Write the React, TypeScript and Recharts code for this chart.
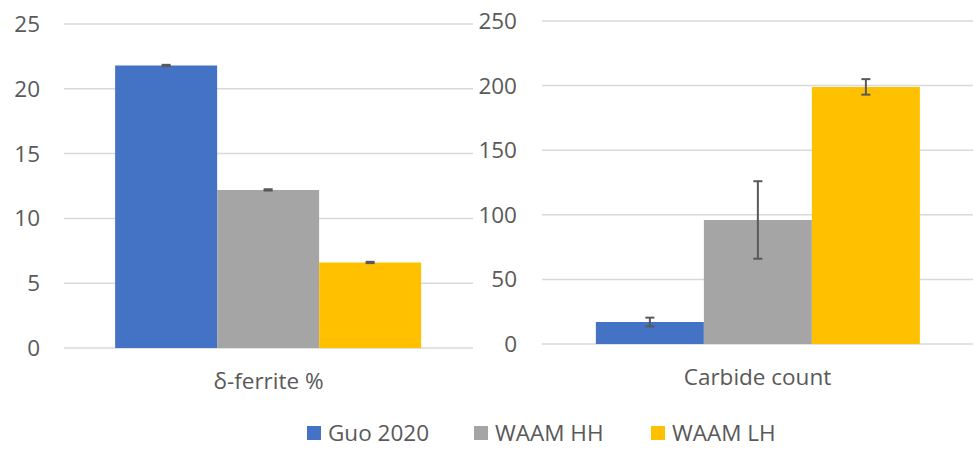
import React from "react";
import { BarChart, Bar, XAxis, YAxis, CartesianGrid, ErrorBar } from "recharts";

const seriesNames = ["Guo 2020", "WAAM HH", "WAAM LH"];
const seriesColors = ["#4472C4", "#A5A5A5", "#FFC000"];

const ferriteCategory = "δ-ferrite %";
const ferriteValues = [21.8, 12.2, 6.6];
const ferriteErrors = [0.05, 0.05, 0.05];
const ferriteTicks = [0, 5, 10, 15, 20, 25];

const carbideCategory = "Carbide count";
const carbideValues = [17, 96, 199];
const carbideErrors = [3.4, 30, 6];
const carbideTicks = [0, 50, 100, 150, 200, 250];

const FONT = "'Open Sans', 'Noto Sans', sans-serif";
const TEXT = "#595959";
const FS = 22.5;

function buildRow(cat: string, vals: number[], errs: number[]) {
  const row: any = { cat };
  vals.forEach((v, i) => {
    row["s" + i] = v;
    row["e" + i] = errs[i];
  });
  return [row];
}

const ferriteData = buildRow(ferriteCategory, ferriteValues, ferriteErrors);
const carbideData = buildRow(carbideCategory, carbideValues, carbideErrors);

function Panel(props: {
  data: any[];
  ticks: number[];
  width: number;
  margin: any;
  yWidth: number;
  yTickMargin: number;
  xTickMargin: number;
}) {
  const { data, ticks, width, margin, yWidth, yTickMargin, xTickMargin } = props;
  return (
    <BarChart
      width={width}
      height={449}
      data={data}
      margin={margin}
      barCategoryGap="12.5%"
      barGap={0}
    >
      <CartesianGrid vertical={false} stroke="#D9D9D9" strokeWidth={1.5} />
      <XAxis
        dataKey="cat"
        axisLine={false}
        tickLine={false}
        tickMargin={xTickMargin}
        height={60}
        tick={{ fill: TEXT, fontSize: FS, fontFamily: FONT }}
      />
      <YAxis
        domain={[ticks[0], ticks[ticks.length - 1]]}
        ticks={ticks}
        axisLine={false}
        tickLine={false}
        width={yWidth}
        tickMargin={yTickMargin}
        tick={{ fill: TEXT, fontSize: FS, fontFamily: FONT }}
        interval={0}
      />
      {seriesNames.map((name, i) => (
        <Bar
          key={name}
          dataKey={"s" + i}
          name={name}
          fill={seriesColors[i]}
          isAnimationActive={false}
        >
          <ErrorBar
            dataKey={"e" + i}
            width={4.5}
            strokeWidth={2}
            stroke="#595959"
            direction="y"
          />
        </Bar>
      ))}
    </BarChart>
  );
}

const legendLefts = [307, 474, 651];

export default function App() {
  return (
    <div
      style={{
        position: "absolute",
        left: 0,
        top: 0,
        width: 974,
        height: 449,
        background: "#fff",
        fontFamily: FONT,
      }}
    >
      <div style={{ position: "absolute", left: 0, top: 0 }}>
        <Panel
          data={ferriteData}
          ticks={ferriteTicks}
          width={480}
          margin={{ top: 24, right: 7, bottom: 41, left: 0 }}
          yWidth={64}
          yTickMargin={18}
          xTickMargin={19}
        />
      </div>
      <div style={{ position: "absolute", left: 474, top: 0 }}>
        <Panel
          data={carbideData}
          ticks={carbideTicks}
          width={500}
          margin={{ top: 21, right: 1, bottom: 45, left: 0 }}
          yWidth={68}
          yTickMargin={19}
          xTickMargin={19}
        />
      </div>
      {seriesNames.map((name, i) => (
        <div
          key={name}
          style={{
            position: "absolute",
            left: legendLefts[i],
            top: 418,
            height: 30,
            display: "flex",
            alignItems: "center",
            whiteSpace: "nowrap",
          }}
        >
          <div
            style={{
              width: 14,
              height: 14,
              background: seriesColors[i],
              marginRight: 7,
              flex: "none",
            }}
          />
          <span style={{ color: TEXT, fontSize: FS, lineHeight: "30px" }}>
            {name}
          </span>
        </div>
      ))}
    </div>
  );
}
